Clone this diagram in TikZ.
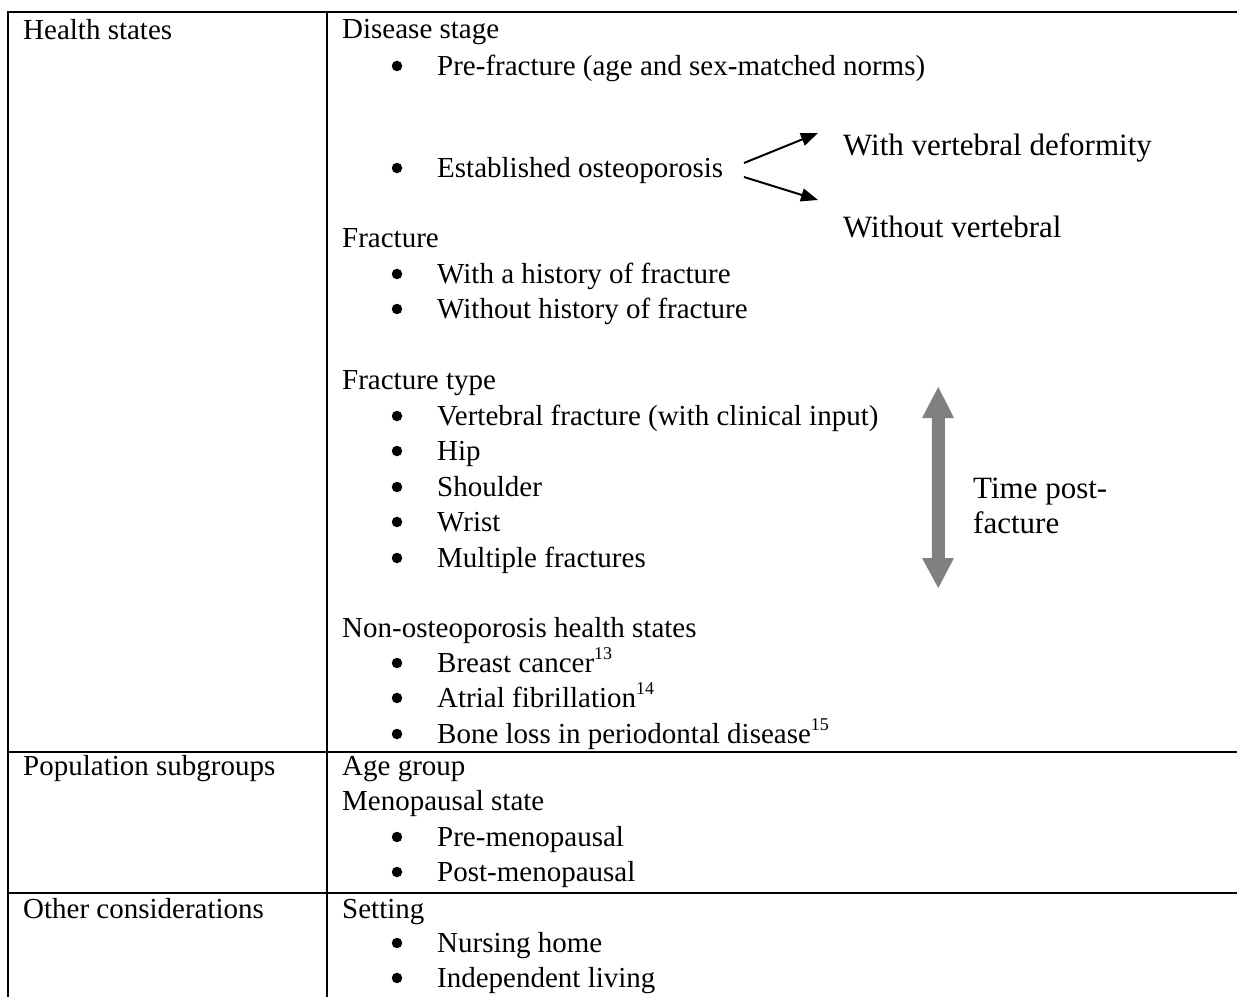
\documentclass[tikz,border=0pt]{standalone}
\usepackage{fontspec}
\setmainfont{Liberation Serif}
\usetikzlibrary{arrows.meta}
\newcommand\supnum[1]{\raisebox{0.42em}{\fontsize{18}{18}\selectfont #1}}
\tikzset{
  txt/.style={anchor=base west, inner sep=0pt, font=\fontsize{29}{35}\selectfont},
  bul/.style={circle, fill=black, inner sep=0pt, minimum size=10.5pt},
  big/.style={anchor=base west, inner sep=0pt, font=\fontsize{31}{36}\selectfont},
  rule/.style={line width=2pt, black},
  conn/.style={line width=2pt, -{Triangle[length=17pt,width=13pt]}},
}
\begin{document}
\begin{tikzpicture}[x=1pt,y=-1pt]
\useasboundingbox (0,0) rectangle (1237,997);
% table rules
\draw[rule] (8,997) -- (8,12) -- (1237,12);
\draw[rule] (327,12) -- (327,997);
\draw[rule] (8,752) -- (1237,752);
\draw[rule] (8,893) -- (1237,893);
% left column
\node[txt] (hs) at (23,39) {Health states};
\node[txt] (ps) at (23,775) {Population subgroups};
\node[txt] (oc) at (23,918) {Other considerations};
% column 2 headings
\node[txt] (ds) at (342,38) {Disease stage};
\node[txt] (fr) at (342,247) {Fracture};
\node[txt] (ft) at (342,389) {Fracture type};
\node[txt] (no) at (342,637) {Non-osteoporosis health states};
\node[txt] (ag) at (342,775) {Age group};
\node[txt] (ms) at (342,810) {Menopausal state};
\node[txt] (st) at (342,918) {Setting};
% bullet items
\foreach \y/\t/\n in {
  75/{Pre-fracture (age and sex-matched norms)}/b1,
  177/{Established osteoporosis}/b2,
  283/{With a history of fracture}/b3,
  318/{Without history of fracture}/b4,
  425/{Vertebral fracture (with clinical input)}/b5,
  460/{Hip}/b6,
  496/{Shoulder}/b7,
  531/{Wrist}/b8,
  567/{Multiple fractures}/b9,
  672/{Breast cancer\supnum{13}}/b10,
  707/{Atrial fibrillation\supnum{14}}/b11,
  743/{Bone loss in periodontal disease\supnum{15}}/b12,
  846/{Pre-menopausal}/b13,
  881/{Post-menopausal}/b14,
  952/{Nursing home}/b15,
  987/{Independent living}/b16}
{
  \node[bul] (\n d) at (397,\y-9) {};
  \node[txt] (\n) at (437,\y) {\t};
}
% branch labels
\node[big] (wv) at (843,155) {With vertebral deformity};
\node[big] (wo) at (843,237) {Without vertebral};
\coordinate (s1) at (744,163);
\coordinate (s2) at (744,177);
\coordinate (t1) at (818,133);
\coordinate (t2) at (818,200);
\draw[conn] (s1) -- (t1);
\draw[conn] (s2) -- (t2);
% gray double arrow
\fill[gray] (931.8,418) -- (922,418) -- (938.3,387) -- (954,418) -- (944.8,418)
  -- (944.8,558) -- (954,558) -- (938.3,588) -- (922,558) -- (931.8,558) -- cycle;
\node[big] (tp1) at (973,498) {Time post-};
\node[big] (tp2) at (973,533) {facture};
\end{tikzpicture}
\end{document}
